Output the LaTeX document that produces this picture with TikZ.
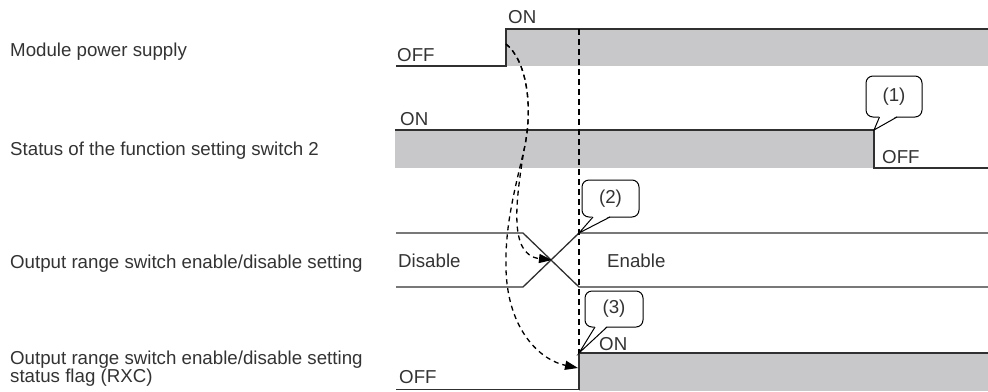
\documentclass[tikz,border=0pt]{standalone}
\usepackage{fontspec}
\setmainfont{Liberation Sans}
\usetikzlibrary{arrows.meta}
\definecolor{sig}{HTML}{303030}
\definecolor{grayfill}{HTML}{C8C8CA}
\definecolor{txt}{HTML}{333333}
\begin{document}
\begin{tikzpicture}[x=1bp,y=-1bp,
  lbl/.style={anchor=base west,inner sep=0pt,text=txt,align=left,
    font=\fontsize{18.7bp}{17.5bp}\selectfont},
  sigline/.style={draw=sig,line width=1.3bp},
  shade/.style={fill=grayfill},
  guide/.style={draw=black,line width=1.1bp,dash pattern=on 6bp off 4bp},
  flow/.style={draw=black,line width=1.3bp,dash pattern=on 5bp off 4bp,
    -{Triangle[length=13bp,width=9bp]}},
  callout/.style={draw=black,fill=white,line width=1bp,rounded corners=7bp,
    inner sep=0pt,text=txt,font=\fontsize{18.7bp}{18.7bp}\selectfont},
  tail/.style={draw=black,line width=1bp,line join=miter}
]
\useasboundingbox (0,0) rectangle (988,391);

% ---------- left labels ----------
\node[lbl] (l1) at (10,56.5) {Module power supply};
\node[lbl] (l2) at (10,155) {Status of the function setting switch 2};
\node[lbl] (l3) at (10,268) {Output range switch enable/disable setting};
\node[lbl] (l4) at (10,382) {Output range switch enable/disable setting\\status flag (RXC)};

% ---------- gray areas ----------
\fill[shade] (506,29) rectangle (988,66);
\fill[shade] (395,130) rectangle (874,168);
\fill[shade] (579,353) rectangle (988,391);

% ---------- signal lines ----------
\draw[sigline] (396,66) -- (506,66) -- (506,29) -- (988,29);
\draw[sigline] (395,130) -- (874,130) -- (874,168) -- (988,168);
\draw[sigline] (396,233) -- (523,233) -- (579,287) -- (988,287);
\draw[sigline] (396,287) -- (523,287) -- (579,233) -- (988,233);
\draw[sigline] (396,389.5) -- (579,389.5) -- (579,353) -- (988,353);

% ---------- state texts ----------
\node[lbl] (off1) at (397,61) {OFF};
\node[lbl] (on1) at (508,23) {ON};
\node[lbl] (on2) at (400,125) {ON};
\node[lbl] (off2) at (882,163) {OFF};
\node[lbl] (dis) at (398,267) {Disable};
\node[lbl] (en) at (607,267) {Enable};
\node[lbl] (on4) at (599,350) {ON};
\node[lbl] (off4) at (399,383) {OFF};

% ---------- key points ----------
\coordinate (s) at (506,44);
\coordinate (m) at (524,150);
\coordinate (x) at (552,260);
\coordinate (e) at (578,368);
\coordinate (g1) at (579,29);
\coordinate (g2) at (579,353);
\coordinate (p1) at (874,130);
\coordinate (p2) at (579,233);
\coordinate (p3) at (579,353);

% ---------- vertical guide ----------
\draw[guide] (g1) -- (g2);

% ---------- dashed flow arrows ----------
\draw[flow] (s) .. controls (526,60) and (534,105) .. (m)
  .. controls (516,200) and (508,255) .. (x);
\draw[flow] (s) .. controls (526,60) and (534,105) .. (m)
  .. controls (512,200) and (505,230) .. (506,270)
  .. controls (508,330) and (540,360) .. (e);

% ---------- callouts ----------
\node[callout,minimum width=56bp,minimum height=41bp] (c1) at (894,96.5) {(1)};
\fill[white] (879.5,115.8) -- (p1) -- (897,115.8) -- cycle;
\draw[tail] (879.5,117) -- (p1) -- (897,117);

\node[callout,minimum width=57bp,minimum height=37bp] (c2) at (610.5,198.5) {(2)};
\fill[white] (593,215.8) -- (p2) -- (610,215.8) -- cycle;
\draw[tail] (593,217) -- (p2) -- (610,217);

\node[callout,minimum width=58bp,minimum height=36bp] (c3) at (614,309) {(3)};
\fill[white] (595,325.8) -- (p3) -- (607,325.8) -- cycle;
\draw[tail] (595,327) -- (p3) -- (607,327);
\end{tikzpicture}
\end{document}
